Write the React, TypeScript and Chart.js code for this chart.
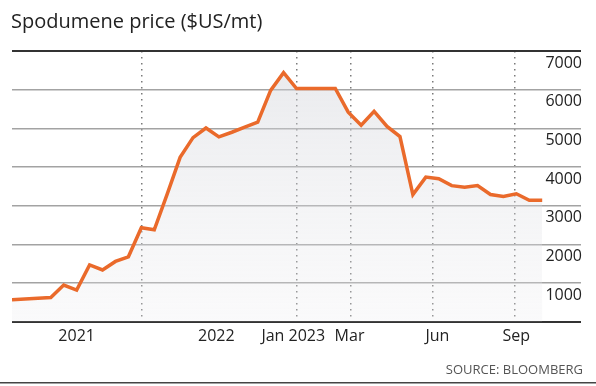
import React, { useEffect, useRef } from "react";
import { Chart, registerables } from "chart.js";

Chart.register(...registerables);

// Spodumene price, $US/mt (points evenly spaced along the x axis)
const prices: number[] = [
  570, 590, 610, 630, 950, 820, 1470, 1340, 1560, 1680,
  2430, 2380, 3300, 4250, 4760, 5010, 4780, 4900, 5030, 5160,
  5980, 6440, 6030, 6030, 6030, 6030, 5420, 5080, 5440, 5050,
  4790, 3290, 3740, 3700, 3520, 3480, 3520, 3290, 3240, 3310,
  3140, 3140,
];

// x-axis: dotted divider positions (in point index units) and labels
const dividerTicks: number[] = [10, 22, 26.22, 32.55, 38.9];
const axisLabels: string[] = ["2021", "2022", "Jan 2023", "Mar", "Jun", "Sep"];
const axisLabelTicks: number[] = [5, 15.8, 21.75, 26.1, 32.9, 39.0];

// y-axis
const yTicks: number[] = [0, 1000, 2000, 3000, 4000, 5000, 6000, 7000];
const yMin = 0;
const yMax = 7000;
const xMax = 44;

const TITLE = "Spodumene price ($US/mt)";
const SOURCE = "SOURCE: BLOOMBERG";
const FONT = "'Open Sans', 'Noto Sans', sans-serif";

export default function App() {
  const ref = useRef<HTMLCanvasElement | null>(null);

  useEffect(() => {
    document.body.style.margin = "0";
    const canvas = ref.current;
    if (!canvas) return;

    const decor = {
      id: "decor",
      afterDraw(chart: any) {
        const ctx = chart.ctx;
        ctx.save();
        ctx.fillStyle = "#222";
        ctx.font = `20px ${FONT}`;
        ctx.textAlign = "left";
        ctx.textBaseline = "alphabetic";
        ctx.fillText(TITLE, 11, 27.5);

        ctx.fillStyle = "#555";
        ctx.font = `13px ${FONT}`;
        ctx.textAlign = "right";
        ctx.fillText(SOURCE, 583, 374);

        ctx.strokeStyle = "#444";
        ctx.lineWidth = 1.5;
        ctx.beginPath();
        ctx.moveTo(0, 382.75);
        ctx.lineTo(chart.width, 382.75);
        ctx.stroke();
        ctx.restore();
      },
    };

    const chart = new Chart(canvas, {
      type: "line",
      data: {
        datasets: [
          {
            data: prices.map((v, i) => ({ x: i, y: v })),
            borderColor: "#ea6a2b",
            borderWidth: 3.5,
            borderJoinStyle: "miter",
            pointRadius: 0,
            tension: 0,
            fill: "origin",
            backgroundColor: (c: any) => {
              const area = c.chart.chartArea;
              if (!area) return "rgba(215,217,222,0.4)";
              const g = c.chart.ctx.createLinearGradient(0, area.top, 0, area.bottom);
              g.addColorStop(0, "rgba(205,207,214,0.45)");
              g.addColorStop(1, "rgba(235,235,238,0.25)");
              return g;
            },
            xAxisID: "x",
            yAxisID: "y",
          },
        ],
      },
      options: {
        animation: false,
        responsive: false,
        events: [],
        layout: { padding: { left: 12, right: 13, top: 51, bottom: 35 } },
        plugins: {
          legend: { display: false },
          tooltip: { enabled: false },
          title: { display: false },
        },
        scales: {
          x: {
            type: "linear",
            position: "bottom",
            min: 0,
            max: xMax,
            afterBuildTicks: (axis: any) => {
              axis.ticks = dividerTicks.map((v) => ({ value: v }));
            },
            grid: {
              display: true,
              color: "#7a7a7a",
              lineWidth: 1.5,
              drawTicks: false,
              borderDash: [1.5, 4.5],
            } as any,
            border: { display: false, dash: [1.5, 4.5] },
            ticks: { display: false },
          },
          xl: {
            type: "linear",
            axis: "x",
            position: "bottom",
            min: 0,
            max: xMax,
            afterBuildTicks: (axis: any) => {
              axis.ticks = axisLabelTicks.map((v) => ({ value: v }));
            },
            grid: { display: false, drawTicks: false },
            border: { display: false },
            ticks: {
              autoSkip: false,
              maxRotation: 0,
              padding: 5,
              color: "#222",
              font: { family: FONT, size: 16 },
              callback: (_v: any, i: number) => axisLabels[i],
            },
          } as any,
          y: {
            type: "linear",
            position: "right",
            min: yMin,
            max: yMax,
            afterBuildTicks: (axis: any) => {
              axis.ticks = yTicks.map((v) => ({ value: v }));
            },
            grid: {
              drawTicks: false,
              color: (c: any) =>
                c.tick && (c.tick.value === yMin || c.tick.value === yMax) ? "#333" : "#a3a3a3",
              lineWidth: (c: any) =>
                c.tick && (c.tick.value === yMin || c.tick.value === yMax) ? 2 : 1.5,
            },
            border: { display: false },
            ticks: {
              mirror: true,
              padding: 1,
              labelOffset: 12,
              color: "#222",
              font: { family: FONT, size: 16 },
              callback: (v: any) => (v === yMin ? "" : String(v)),
            },
          },
        },
      },
      plugins: [decor],
    } as any);

    return () => chart.destroy();
  }, []);

  return <canvas ref={ref} width={596} height={386} style={{ display: "block" }} />;
}
